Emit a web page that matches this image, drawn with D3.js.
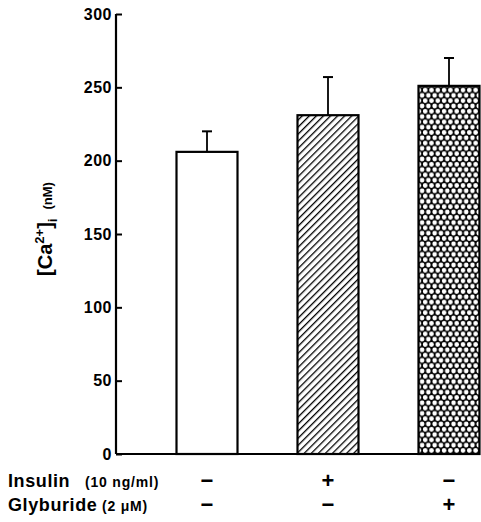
<!DOCTYPE html>
<html>
<head>
<meta charset="utf-8">
<script src="https://cdn.jsdelivr.net/npm/d3@7"></script>
<style>
  body { margin: 0; background: #fff; }
  svg { display: block; }
  text { font-family: "Liberation Sans", Arial, sans-serif; font-weight: bold; fill: #000; }
</style>
</head>
<body>
<div id="chart"></div>
<script>
// data
var groups = ["control", "insulin", "glyburide"];
var means = [206, 231, 251];
var errors = [14, 26, 19];
var fills = ["white", "url(#hatch)", "url(#cross)"];
var yTicks = [0, 50, 100, 150, 200, 250, 300];
var insulinSigns = ["\u2212", "+", "\u2212"];
var glyburideSigns = ["\u2212", "\u2212", "+"];

var svg = d3.select("#chart").append("svg")
    .attr("width", 481)
    .attr("height", 522);

var defs = svg.append("defs");

// diagonal hatch
var hatch = defs.append("pattern")
    .attr("id", "hatch")
    .attr("patternUnits", "userSpaceOnUse")
    .attr("width", 5)
    .attr("height", 5)
    .attr("patternTransform", "rotate(45)");
hatch.append("rect").attr("width", 5).attr("height", 5).attr("fill", "#fff");
hatch.append("line")
    .attr("x1", 0).attr("y1", 0).attr("x2", 0).attr("y2", 5)
    .attr("stroke", "#000").attr("stroke-width", 2.6);

// black with white dots
var cross = defs.append("pattern")
    .attr("id", "cross")
    .attr("patternUnits", "userSpaceOnUse")
    .attr("width", 6.3)
    .attr("height", 10.6);
cross.append("rect").attr("width", 6.3).attr("height", 10.6).attr("fill", "#000");
[[0, 0], [6.3, 0], [0, 10.6], [6.3, 10.6], [3.15, 5.3]].forEach(function(p){
    cross.append("circle")
        .attr("cx", p[0]).attr("cy", p[1]).attr("r", 2.3)
        .attr("fill", "#fff");
});

var plotLeft = 116, plotRight = 479, plotTop = 14, plotBottom = 454;

var x = d3.scalePoint()
    .domain(groups)
    .range([207, 449]);

var y = d3.scaleLinear()
    .domain([0, 300])
    .range([plotBottom, plotTop]);

var barWidth = 61;

// y axis, ticks pointing inward
var yAxis = svg.append("g")
    .attr("transform", "translate(" + plotLeft + ",0)")
    .call(d3.axisRight(y).tickValues(yTicks).tickSize(6).tickFormat(d3.format("d")));
yAxis.select(".domain").remove();
yAxis.selectAll(".tick line").attr("stroke", "#000").attr("stroke-width", 2);
yAxis.selectAll(".tick text")
    .attr("x", -4)
    .attr("text-anchor", "end")
    .style("font-size", "16px")
    .style("letter-spacing", "0.5px")
    .style("font-family", "'Liberation Sans', Arial, sans-serif")
    .style("font-weight", "bold");

svg.append("line")
    .attr("x1", plotLeft).attr("x2", plotLeft)
    .attr("y1", plotTop).attr("y2", plotBottom)
    .attr("stroke", "#000").attr("stroke-width", 2.2);

// error bars
var err = svg.append("g");
groups.forEach(function(g, i){
    var cx = x(g);
    err.append("line")
        .attr("x1", cx).attr("x2", cx)
        .attr("y1", y(means[i])).attr("y2", y(means[i] + errors[i]))
        .attr("stroke", "#000").attr("stroke-width", 1.8);
    err.append("line")
        .attr("x1", cx - 5).attr("x2", cx + 5)
        .attr("y1", y(means[i] + errors[i])).attr("y2", y(means[i] + errors[i]))
        .attr("stroke", "#000").attr("stroke-width", 2);
});

// bars
svg.append("g").selectAll("rect")
    .data(groups)
    .enter().append("rect")
    .attr("x", function(d) { return x(d) - barWidth / 2; })
    .attr("y", function(d, i) { return y(means[i]); })
    .attr("width", barWidth)
    .attr("height", function(d, i) { return plotBottom - y(means[i]); })
    .attr("fill", function(d, i) { return fills[i]; })
    .attr("stroke", "#000")
    .attr("stroke-width", 2.2);

// x axis line
svg.append("line")
    .attr("x1", plotLeft).attr("x2", plotRight)
    .attr("y1", plotBottom).attr("y2", plotBottom)
    .attr("stroke", "#000").attr("stroke-width", 2.2);

// y label
var yl = svg.append("text")
    .attr("transform", "translate(52,229) rotate(-90)")
    .attr("text-anchor", "middle")
    .style("font-size", "20px");
yl.append("tspan").text("[Ca");
yl.append("tspan").attr("dy", -8).style("font-size", "13px").text("2+");
yl.append("tspan").attr("dy", 8).text("]");
yl.append("tspan").attr("dy", 5).style("font-size", "13px").text("i");
yl.append("tspan").attr("dy", -5).attr("dx", 9).style("font-size", "13px").text("(nM)");

// condition rows
var rows = [
    {name: "Insulin", dose: "(10 ng/ml)", doseX: 85, signs: insulinSigns, y: 487},
    {name: "Glyburide", dose: "(2 \u03bcM)", doseX: 102, signs: glyburideSigns, y: 511}
];
rows.forEach(function(r){
    svg.append("text")
        .attr("x", 8).attr("y", r.y)
        .style("font-size", "18px")
        .style("letter-spacing", "0.6px")
        .text(r.name);
    svg.append("text")
        .attr("x", r.doseX).attr("y", r.y)
        .style("font-size", "14px")
        .style("letter-spacing", "0.8px")
        .text(r.dose);
    groups.forEach(function(g, i){
        svg.append("text")
            .attr("x", x(g)).attr("y", r.y + 1)
            .attr("text-anchor", "middle")
            .style("font-size", "22px")
            .text(r.signs[i]);
    });
});
</script>
</body>
</html>
